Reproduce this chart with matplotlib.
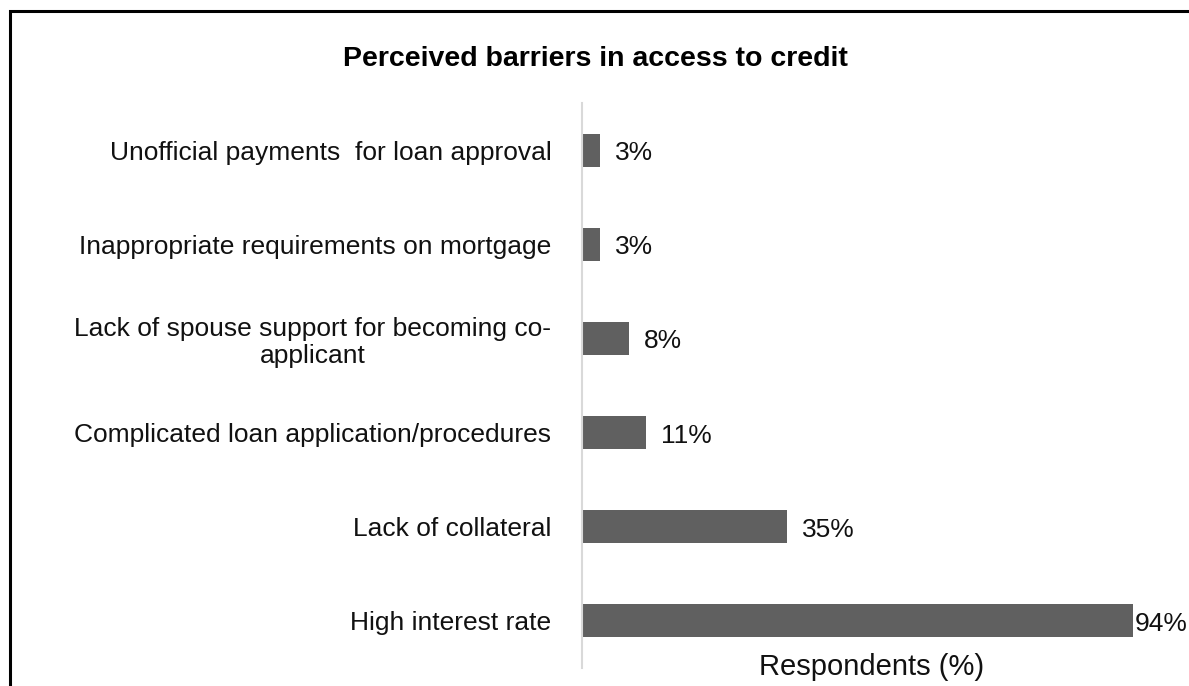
import matplotlib
matplotlib.use("Agg")

import matplotlib.pyplot as plt
from matplotlib.patches import Rectangle

plt.rcParams["font.family"] = ["Liberation Sans", "DejaVu Sans"]

categories = [
    "Unofficial payments  for loan approval",
    "Inappropriate requirements on mortgage",
    "Lack of spouse support for becoming co-\napplicant",
    "Complicated loan application/procedures",
    "Lack of collateral",
    "High interest rate",
]
values = [3, 3, 8, 11, 35, 94]
value_labels = ["3%", "3%", "8%", "11%", "35%", "94%"]

fig = plt.figure(figsize=(11.89, 6.86), dpi=100)
ax = fig.add_axes([582 / 1189, 18 / 686, 551 / 1189, 565 / 686])

pos = list(range(len(categories)))
ax.barh(pos, values, height=0.35, color="#606060")
ax.set_xlim(0, 94)
ax.set_ylim(len(categories) - 0.5, -0.5)

ax.set_yticks(pos)
ax.set_yticklabels(categories, fontsize=19, color="#111111",
                   multialignment="center", linespacing=1.15)
ax.tick_params(axis="y", length=0, pad=22)
ax.set_xticks([])
for side in ["top", "right", "bottom"]:
    ax.spines[side].set_visible(False)
ax.spines["left"].set_color("#d9d9d9")
ax.spines["left"].set_linewidth(1.5)

for i, (v, lab) in enumerate(zip(values, value_labels)):
    off = 2 if v == max(values) else 15
    ax.annotate(lab, (v, i), xytext=(off, -3), textcoords="offset pixels",
                va="center", ha="left", fontsize=19, color="#111111",
                annotation_clip=False)

fig.text(595 / 1189, 1 - 59 / 686, "Perceived barriers in access to credit",
         ha="center", va="center", fontsize=20.5, fontweight="bold")
fig.text(872 / 1189, 1 - 667 / 686, "Respondents (%)",
         ha="center", va="center", fontsize=21, color="#111111")

# outer chart frame
fig.patches.append(Rectangle((10 / 1189, -0.1), 1.2, 1 - 11 / 686 + 0.1,
                             transform=fig.transFigure, fill=False,
                             edgecolor="black", linewidth=2.2))

fig.savefig("out.png", dpi=100)
